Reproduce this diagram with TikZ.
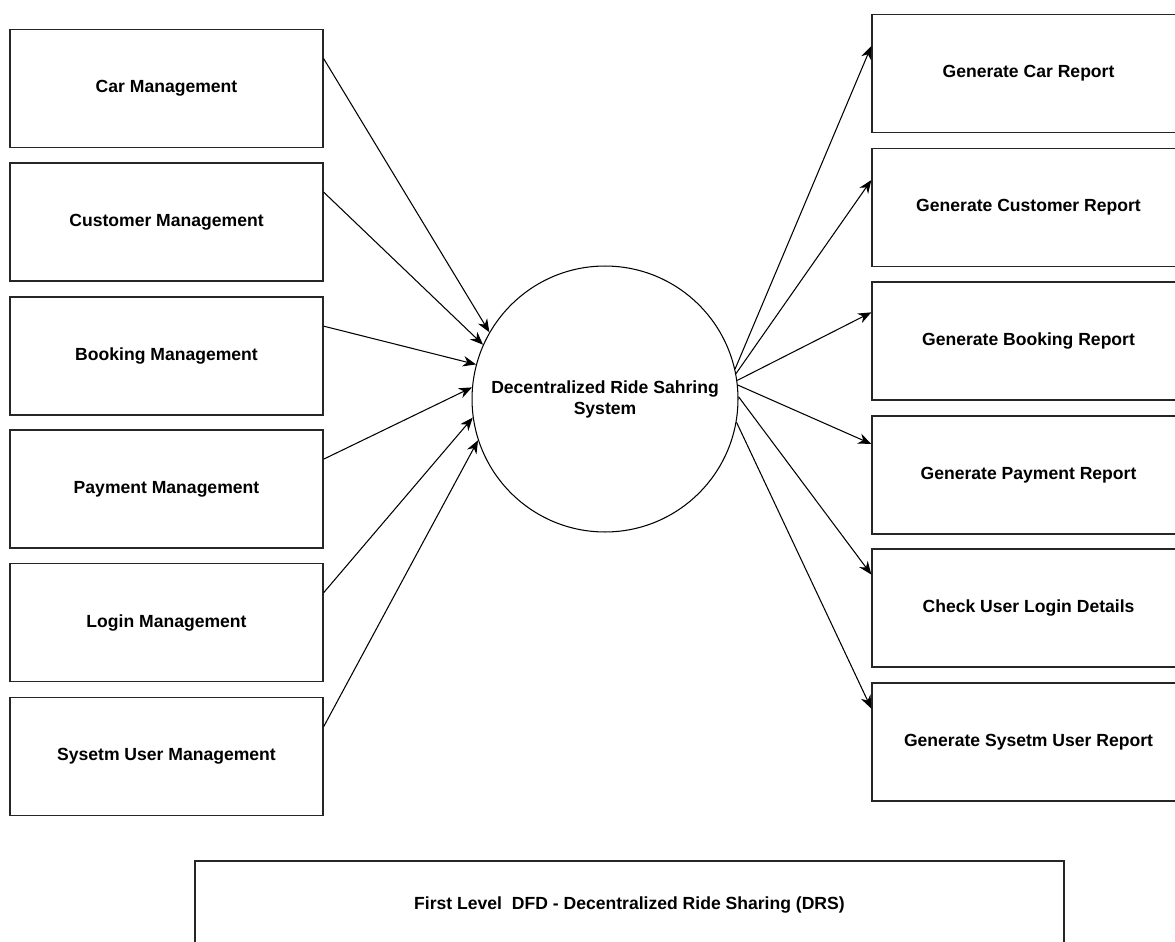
\documentclass[tikz,border=0pt]{standalone}
\usepackage{fontspec}
\setmainfont{Liberation Sans}
\usetikzlibrary{positioning,calc,arrows.meta}
\tikzset{>={Stealth[length=7.5pt,width=6pt]}}
\tikzset{proc/.style={draw=black!85,line width=.8pt,minimum width=6.26cm,minimum height=2.36cm,font=\bfseries}}

\begin{document}
\begin{tikzpicture}[x=.02cm,y=-.02cm,line width=.6pt]
\useasboundingbox (0,0) rectangle (1175,942);
% inputs
\node[proc] (car) at (166.5,88.5) {Car Management};
\node[proc] (cust) at (166.5,222) {Customer Management};
\node[proc] (book) at (166.5,356) {Booking Management};
\node[proc] (pay) at (166.5,489) {Payment Management};
\node[proc] (login) at (166.5,622.5) {Login Management};
\node[proc] (susr) at (166.5,756.5) {Sysetm User Management};
\node[draw,circle,minimum size=5.32cm,align=center,font=\bfseries] (sys) at (605,399) {Decentralized Ride Sahring\\System};
% reports
\node[proc] (rcar) at (1028.5,73.5) {Generate Car Report};
\node[proc] (rcust) at (1028.5,207.5) {Generate Customer Report};
\node[proc] (rbook) at (1028.5,341) {Generate Booking Report};
\node[proc] (rpay) at (1028.5,475) {Generate Payment Report};
\node[proc] (rlogin) at (1028.5,608) {Check User Login Details};
\node[proc] (rsusr) at (1028.5,742) {Generate Sysetm User Report};
\draw[->] ($(car.north east)!.25!(car.south east)$) -- (sys.150);
\draw[->] ($(cust.north east)!.25!(cust.south east)$) -- (sys.156);
\draw[->] ($(book.north east)!.25!(book.south east)$) -- (sys.165);
\draw[->] ($(pay.north east)!.25!(pay.south east)$) -- (sys.175);
\draw[->] ($(login.north east)!.25!(login.south east)$) -- (sys.188);
\draw[->] ($(susr.north east)!.25!(susr.south east)$) -- (sys.198);
\draw[->] (sys.13) -- ($(rcar.north west)!.27!(rcar.south west)$);
\draw[->] (sys.11) -- ($(rcust.north west)!.27!(rcust.south west)$);
\draw[->] (sys.8) -- ($(rbook.north west)!.26!(rbook.south west)$);
\draw[->] (sys.6) -- ($(rpay.north west)!.24!(rpay.south west)$);
\draw[->] (sys.1) -- ($(rlogin.north west)!.22!(rlogin.south west)$);
\draw[->] (sys.-10) -- ($(rsusr.north west)!.22!(rsusr.south west)$);
\node[proc,minimum width=17.38cm,minimum height=1.76cm] (title) at (629.5,905) {First Level\ \ DFD - Decentralized Ride Sharing (DRS)};
\end{tikzpicture}
\end{document}
